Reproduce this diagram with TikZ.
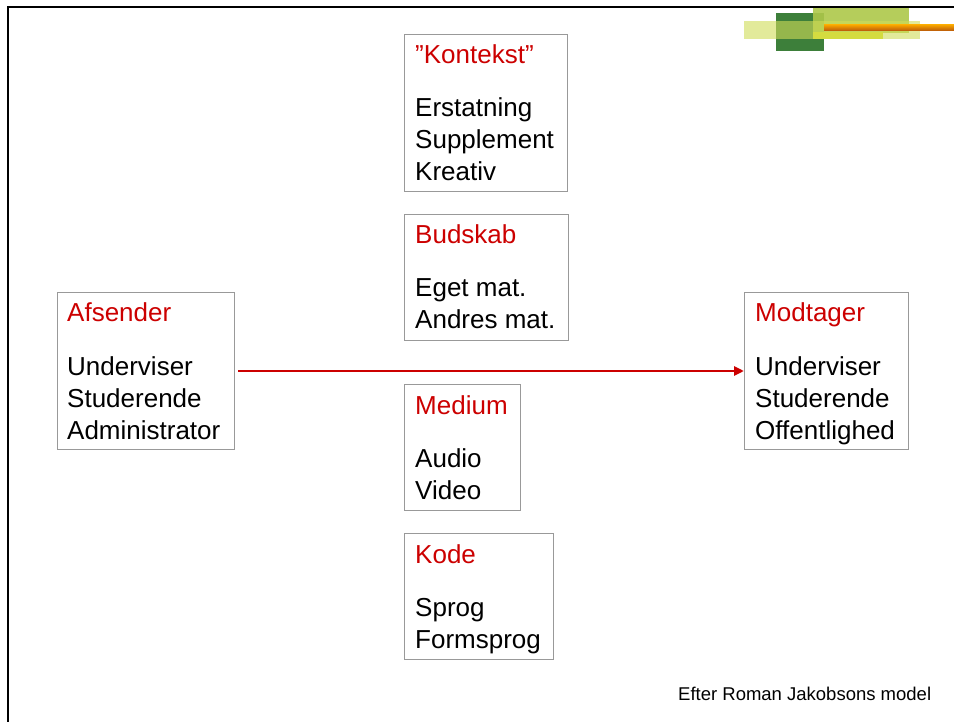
\documentclass[tikz,border=0pt]{standalone}
\usepackage{fontspec}
\setmainfont{Liberation Sans}
\usetikzlibrary{arrows.meta}
\definecolor{boxgray}{HTML}{999999}
\definecolor{titlered}{HTML}{CC0000}
\definecolor{darkgreen}{HTML}{3D7F3A}
\definecolor{brightgreen}{HTML}{ADC84A}
\definecolor{deco yellow}{HTML}{DCDC1E}
\definecolor{palegreen}{HTML}{D0DC58}
\definecolor{orangetop}{HTML}{F5A300}
\definecolor{orangebot}{HTML}{B8560A}
\tikzset{
  box/.style={draw=boxgray, line width=1pt, inner sep=0pt, anchor=north west},
  ttl/.style={anchor=base west, inner sep=0pt, text=titlered, font=\fontsize{26}{32}\selectfont},
  txt/.style={anchor=base west, inner sep=0pt, font=\fontsize{26}{32}\selectfont},
  foot/.style={anchor=base west, inner sep=0pt, font=\fontsize{18.5}{22}\selectfont},
  conn/.style={draw=titlered, line width=2.6pt, -{Triangle[length=10pt,width=9pt]}}
}
\begin{document}
\begin{tikzpicture}[x=1pt,y=-1pt]
\useasboundingbox (0,0) rectangle (954,722);
\fill[white] (0,0) rectangle (954,722);
% decoration
\fill[darkgreen] (776,13) rectangle (824,51);
\fill[brightgreen, opacity=0.9] (813,8) rectangle (909,33);
\fill[deco yellow] (813,32) rectangle (883,39);
\fill[palegreen, opacity=0.6] (744,21) rectangle (920,39);
\shade[top color=orangetop, bottom color=orangebot] (824,25) rectangle (954,31);
% frame
\draw[line width=2pt] (8,722) -- (8,7) -- (954,7);
% boxes
\node[box, minimum width=163, minimum height=157] (kon) at (404,34) {};
\node[ttl] (konT) at (415,64) {”Kontekst”};
\node[txt] (kon1) at (415,117) {Erstatning};
\node[txt] (kon2) at (415,149) {Supplement};
\node[txt] (kon3) at (415,181) {Kreativ};

\node[box, minimum width=164, minimum height=126] (bud) at (404,214) {};
\node[ttl] (budT) at (415,244) {Budskab};
\node[txt] (bud1) at (415,297) {Eget mat.};
\node[txt] (bud2) at (415,329) {Andres mat.};

\node[box, minimum width=177, minimum height=157] (afs) at (57,292) {};
\node[ttl] (afsT) at (67,322) {Afsender};
\node[txt] (afs1) at (67,375) {Underviser};
\node[txt] (afs2) at (67,407) {Studerende};
\node[txt] (afs3) at (67,439) {Administrator};

\node[box, minimum width=164, minimum height=157] (mod) at (744,292) {};
\node[ttl] (modT) at (755,322) {Modtager};
\node[txt] (mod1) at (755,375) {Underviser};
\node[txt] (mod2) at (755,407) {Studerende};
\node[txt] (mod3) at (755,439) {Offentlighed};

\node[box, minimum width=116, minimum height=126] (med) at (404,384) {};
\node[ttl] (medT) at (415,414) {Medium};
\node[txt] (med1) at (415,467) {Audio};
\node[txt] (med2) at (415,499) {Video};

\node[box, minimum width=149, minimum height=126] (kod) at (404,533) {};
\node[ttl] (kodT) at (415,563) {Kode};
\node[txt] (kod1) at (415,616) {Sprog};
\node[txt] (kod2) at (415,648) {Formsprog};

\draw[conn] ([xshift=3pt]afs.east) -- (mod.west);

\node[foot] (credit) at (678,700) {Efter Roman Jakobsons model};
\end{tikzpicture}
\end{document}
